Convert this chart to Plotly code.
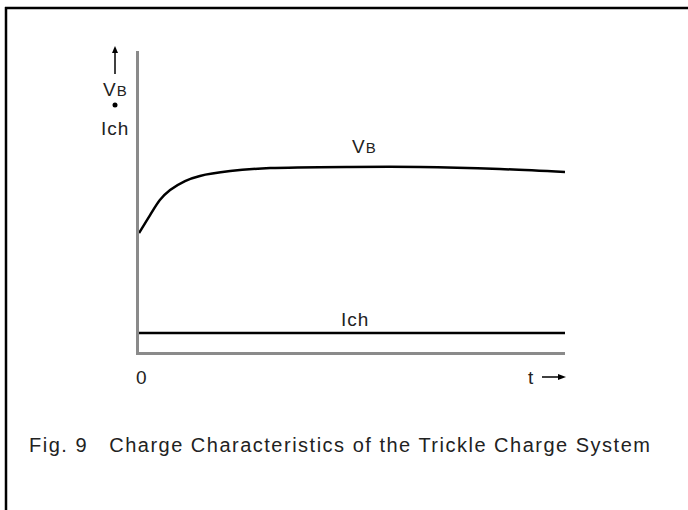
import plotly.graph_objects as go

# data (arbitrary units)
t_vb = [0, 2.6, 4.9, 7.3, 10.8, 14.3, 21.4, 30.8, 49.5, 66, 84.7, 100]
vb = [39.5, 45.5, 50.5, 53.8, 56.8, 58.5, 60.1, 61.1, 61.5, 61.5, 60.8, 59.8]
t_ich = [0, 100]
ich = [6.3, 6.3]

FONT = "Liberation Sans, Arial, sans-serif"
fig = go.Figure()
fig.add_trace(go.Scatter(x=t_vb, y=vb, mode="lines",
                         line=dict(color="black", width=2.5, shape="spline", smoothing=0.8),
                         showlegend=False, hoverinfo="skip"))
fig.add_trace(go.Scatter(x=t_ich, y=ich, mode="lines",
                         line=dict(color="black", width=2.5),
                         showlegend=False, hoverinfo="skip"))

W, H = 688, 510
L, R, T, B = 139, 565, 51, 352

def px(x):
    return (x - L) / (R - L)

def py(y):
    return (B - y) / (B - T)

def sp(s, ls=1.0):
    return f"<span style='letter-spacing:{ls}px'>{s}</span>"

vbtxt = "<span style='letter-spacing:1px'>V<span style='font-size:15px'>B</span></span>"
ann = [
    dict(x=px(364), y=py(146), text=vbtxt),
    dict(x=px(355), y=py(319), text=sp("Ich")),
    dict(x=px(141), y=py(377), text="0"),
    dict(x=px(531), y=py(378), text="t"),
    dict(x=px(115), y=py(89), text=vbtxt),
    dict(x=px(115), y=py(128), text=sp("Ich")),
    dict(x=px(27), y=py(445),
         text=sp("Fig. 9&nbsp;&nbsp;&nbsp;Charge Characteristics of the Trickle Charge System", 1.5),
         xanchor="left", font=dict(family=FONT, size=20, color="#222")),
]
annotations = []
for a in ann:
    d = dict(xref="paper", yref="paper", showarrow=False,
             font=dict(family=FONT, size=19, color="#222"), xanchor="center", yanchor="middle")
    d.update(a)
    annotations.append(d)

shapes = [
    # frame
    dict(type="line", xref="paper", yref="paper", x0=px(6), x1=px(6), y0=py(7), y1=py(520),
         line=dict(color="black", width=2.5)),
    dict(type="line", xref="paper", yref="paper", x0=px(5), x1=px(700), y0=py(8), y1=py(8),
         line=dict(color="black", width=2.5)),
    # up arrow
    dict(type="line", xref="paper", yref="paper", x0=px(115), x1=px(115), y0=py(74), y1=py(50),
         line=dict(color="black", width=1.5)),
    dict(type="path", xref="paper", yref="paper",
         path=f"M {px(112)} {py(53)} L {px(115)} {py(46)} L {px(118)} {py(53)} Z",
         fillcolor="black", line=dict(color="black", width=0)),
    # dot between labels
    dict(type="circle", xref="paper", yref="paper",
         x0=px(112.5), x1=px(117.5), y0=py(102.5), y1=py(107.5),
         fillcolor="black", line=dict(color="black", width=0)),
    # right arrow
    dict(type="line", xref="paper", yref="paper", x0=px(542), x1=px(561), y0=py(377), y1=py(377),
         line=dict(color="black", width=1.5)),
    dict(type="path", xref="paper", yref="paper",
         path=f"M {px(558)} {py(374)} L {px(566)} {py(377)} L {px(558)} {py(380)} Z",
         fillcolor="black", line=dict(color="black", width=0)),
]

fig.update_layout(
    width=W, height=H,
    margin=dict(l=L, r=W - R, t=T, b=H - B, pad=0),
    paper_bgcolor="white", plot_bgcolor="white",
    xaxis=dict(range=[0, 100], showgrid=False, zeroline=False, showticklabels=False,
               ticks="", showline=True, linecolor="#8a8a8a", linewidth=2.5),
    yaxis=dict(range=[0, 100], showgrid=False, zeroline=False, showticklabels=False,
               ticks="", showline=True, linecolor="#8a8a8a", linewidth=2.5),
    annotations=annotations, shapes=shapes,
)
fig.write_html("out.html", config={"displayModeBar": False},
               post_script="document.body.style.margin='0';document.body.style.overflow='hidden';")
